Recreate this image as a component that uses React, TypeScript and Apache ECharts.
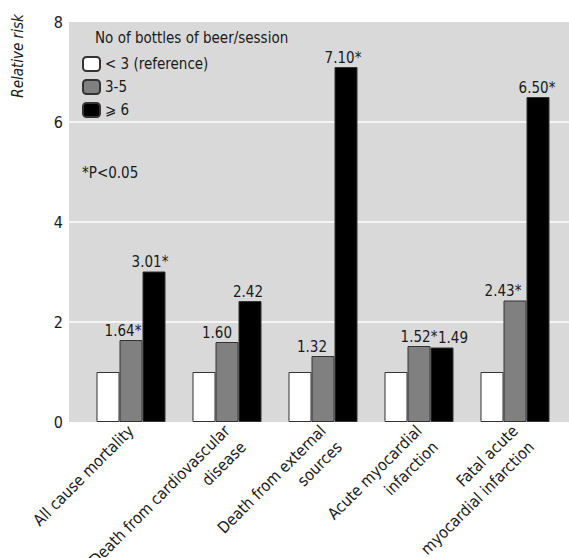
import React, { useEffect, useRef } from "react";
import * as echarts from "echarts";

const categories = [
  "All cause mortality",
  "Death from cardiovascular\ndisease",
  "Death from external\nsources",
  "Acute myocardial\ninfarction",
  "Fatal acute\nmyocardial infarction",
];
const seriesNames = ["< 3 (reference)", "3-5", "⩾ 6"];
const refValues = [1, 1, 1, 1, 1];
const midValues = [1.64, 1.6, 1.32, 1.52, 2.43];
const highValues = [3.01, 2.42, 7.1, 1.49, 6.5];
const midLabels = ["1.64*", "1.60", "1.32", "1.52*", "2.43*"];
const highLabels = ["3.01*", "2.42", "7.10*", "1.49", "6.50*"];
const midLabelShift = [-8, -10, -11, 0, -12];
const highLabelShift = [-4, -2, -3, 11, -1];
const yTicks = [0, 2, 4, 6, 8];

const FONT = "'Liberation Sans Narrow', 'DejaVu Sans Condensed', 'Liberation Sans', sans-serif";

export default function App() {
  const ref = useRef<HTMLDivElement>(null);
  useEffect(() => {
    if (!ref.current) return;
    const chart = echarts.init(ref.current, null, { renderer: "svg" });
    const labelStyle = { color: "#1a1a1a", fontSize: 15, fontFamily: FONT };
    const mkData = (vals: number[], labels: string[] | null, shifts: number[] | null) =>
      vals.map((v, i) =>
        labels
          ? {
              value: v,
              label: {
                show: true,
                position: "top",
                distance: 2,
                formatter: labels[i],
                offset: [shifts ? shifts[i] : 0, 0],
                ...labelStyle,
              },
            }
          : v
      );
    chart.setOption({
      animation: false,
      textStyle: { fontFamily: FONT },
      title: {
        text: "No of bottles of beer/session",
        left: 95,
        top: 30,
        padding: 0,
        textStyle: { fontSize: 15, fontWeight: "normal", color: "#1a1a1a", fontFamily: FONT },
      },
      legend: {
        orient: "vertical",
        left: 82,
        top: 56,
        itemWidth: 17,
        itemHeight: 14,
        itemGap: 7,
        padding: 0,
        selectedMode: false,
        textStyle: { fontSize: 15, color: "#1a1a1a", fontFamily: FONT },
        data: seriesNames,
      },
      graphic: [
        {
          type: "text",
          x: 18,
          y: 56,
          rotation: Math.PI / 2,
          style: {
            text: "Relative risk",
            fontSize: 15,
            fontStyle: "italic",
            fontFamily: FONT,
            fill: "#1a1a1a",
            align: "center",
            verticalAlign: "middle",
          },
        },
        {
          type: "text",
          x: 82,
          y: 173,
          style: {
            text: "*P<0.05",
            fontSize: 15,
            fontFamily: FONT,
            fill: "#1a1a1a",
            align: "left",
            verticalAlign: "middle",
          },
        },
      ],
      grid: [
        { left: 83, width: 480, top: 22, bottom: 136, show: false, containLabel: false, outerBoundsMode: "none" },
        {
          left: 69,
          right: 0,
          top: 22,
          bottom: 136,
          show: true,
          backgroundColor: "#d9d9d9",
          borderWidth: 0,
          containLabel: false,
          outerBoundsMode: "none",
          z: -1,
        },
      ],
      xAxis: [
        {
          type: "category",
          gridIndex: 0,
          data: categories,
          axisLine: { show: false },
          axisTick: { show: false },
          axisLabel: {
            rotate: 45,
            interval: 0,
            margin: 6,
            fontSize: 16,
            lineHeight: 23,
            color: "#1a1a1a",
            fontFamily: FONT,
            align: "right",
            verticalAlign: "middle",
            formatter: (v: string) => (v.indexOf("\n") >= 0 ? "\n" + v : v),
          },
        },
        { type: "value", gridIndex: 1, min: 0, max: 1, show: false },
      ],
      yAxis: [
        { type: "value", gridIndex: 0, min: 0, max: 8, interval: 2, show: false },
        {
          type: "value",
          gridIndex: 1,
          min: 0,
          max: 8,
          interval: 2,
          axisLine: { show: false },
          axisTick: { show: false },
          axisLabel: { margin: 6, fontSize: 16, color: "#1a1a1a", fontFamily: FONT },
          splitLine: {
            show: true,
            showMinLine: false,
            showMaxLine: false,
            lineStyle: { color: "#ffffff", width: 1.5 },
          },
          data: yTicks,
        },
      ],
      series: [
        {
          name: seriesNames[0],
          type: "bar",
          xAxisIndex: 0,
          yAxisIndex: 0,
          barWidth: 23,
          barGap: "0%",
          itemStyle: { color: "#ffffff", borderColor: "#333", borderWidth: 1 },
          data: mkData(refValues, null, null),
        },
        {
          name: seriesNames[1],
          type: "bar",
          xAxisIndex: 0,
          yAxisIndex: 0,
          barWidth: 23,
          barGap: "0%",
          itemStyle: { color: "#808080", borderColor: "#333", borderWidth: 1 },
          data: mkData(midValues, midLabels, midLabelShift),
        },
        {
          name: seriesNames[2],
          type: "bar",
          xAxisIndex: 0,
          yAxisIndex: 0,
          barWidth: 23,
          barGap: "0%",
          itemStyle: { color: "#000000", borderColor: "#333", borderWidth: 1 },
          data: mkData(highValues, highLabels, highLabelShift),
        },
      ],
    });
    return () => chart.dispose();
  }, []);
  return <div ref={ref} style={{ width: 569, height: 558, position: "absolute", left: 0, top: 0 }} />;
}
